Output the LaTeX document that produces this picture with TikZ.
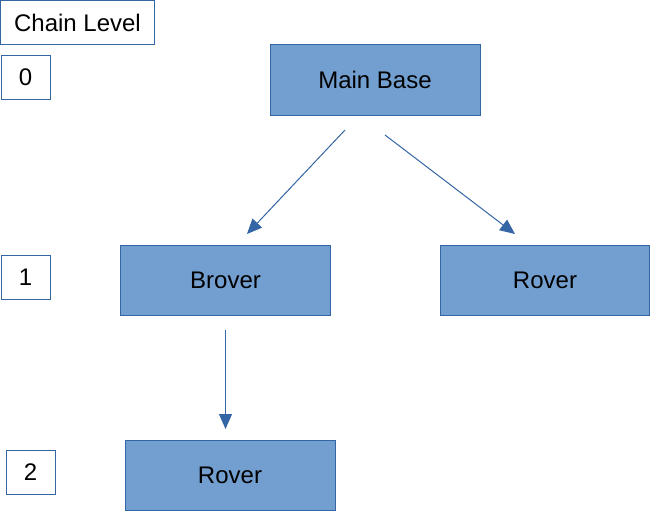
\documentclass[tikz,border=0pt]{standalone}
\usepackage{fontspec}
\setmainfont{Liberation Sans}
\usetikzlibrary{arrows.meta}
\definecolor{boxfill}{HTML}{729FCF}
\definecolor{boxline}{HTML}{3465A4}
\tikzset{
  lvl/.style={draw=boxline, line width=1pt, fill=white, inner sep=0pt, font=\fontsize{24}{28}\selectfont},
  comp/.style={draw=boxline, line width=1pt, fill=boxfill, inner sep=0pt, minimum width=210pt, minimum height=70pt, font=\fontsize{24}{28}\selectfont},
  conn/.style={draw=boxline, line width=1pt, -{Triangle[length=15pt,width=13pt]}}
}
\begin{document}
\begin{tikzpicture}[x=1pt,y=-1pt]
\useasboundingbox (0,0) rectangle (651,511);
\node[lvl, minimum width=154pt, minimum height=44pt] (chain) at (77.5,22.5) {Chain Level};
\node[lvl, minimum width=49pt, minimum height=44pt] (l0) at (25.5,77.5) {0};
\node[lvl, minimum width=49pt, minimum height=44pt] (l1) at (25.5,277.5) {1};
\node[lvl, minimum width=49pt, minimum height=44pt] (l2) at (30.5,472.5) {2};
\node[comp] (main) at (375,80) {Main Base};
\node[comp, minimum width=210pt] (brover) at (225.5,280) {Brover};
\node[comp, minimum width=209pt] (rover1) at (545,280) {Rover};
\node[comp] (rover2) at (230,475) {Rover};
\coordinate (a1s) at (345,130);
\coordinate (a1e) at (247,234);
\coordinate (a2s) at (385,135);
\coordinate (a2e) at (515,234);
\coordinate (a3s) at (225.5,330);
\coordinate (a3e) at (225.5,429);
\draw[conn] (a1s) -- (a1e);
\draw[conn] (a2s) -- (a2e);
\draw[conn] (a3s) -- (a3e);
\end{tikzpicture}
\end{document}
